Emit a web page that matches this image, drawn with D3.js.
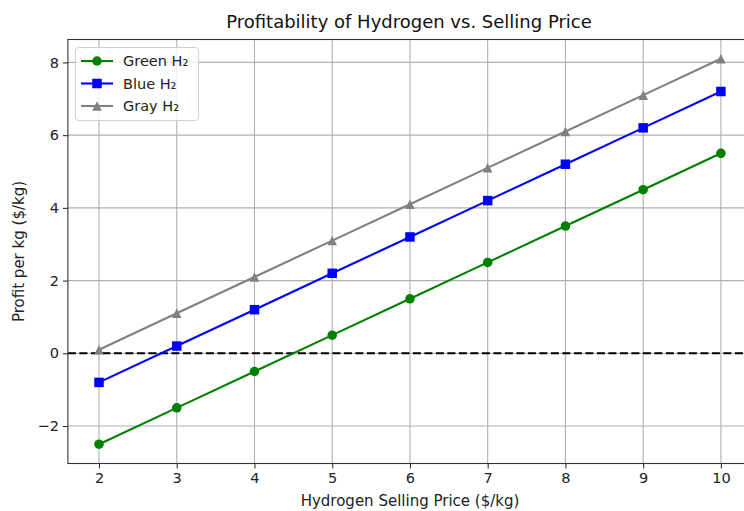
<!DOCTYPE html>
<html><head><meta charset="utf-8">
<script src="https://cdn.jsdelivr.net/npm/d3@7"></script>
<style>body{margin:0;background:#fff;overflow:hidden}svg{display:block;font-family:"DejaVu Sans",sans-serif}</style>
</head><body><svg id="c" width="744" height="511"></svg>
<script>
const prices = [2,3,4,5,6,7,8,9,10];
const green = [-2.5,-1.5,-0.5,0.5,1.5,2.5,3.5,4.5,5.5];
const blue = [-0.8,0.2,1.2,2.2,3.2,4.2,5.2,6.2,7.2];
const gray = [0.1,1.1,2.1,3.1,4.1,5.1,6.1,7.1,8.1];
const seriesNames = ["Green H\u2082","Blue H\u2082","Gray H\u2082"];
const seriesColors = ["green","blue","gray"];
const seriesMarkers = ["circle","square","triangle"];
const xTicks = [2,3,4,5,6,7,8,9,10];
const yTicks = [-2,0,2,4,6,8];

const svg = d3.select("#c");
const L=67.9, R=752, T=39.5, B=463.5;
const x = d3.scaleLinear().domain([1.6,10.4]).range([L,R]);
const y = d3.scaleLinear().domain([-3.03,8.63]).range([B,T]);

// grid
svg.append("g").selectAll("line").data(xTicks).join("line")
  .attr("x1",d=>x(d)).attr("x2",d=>x(d)).attr("y1",T).attr("y2",B)
  .attr("stroke","#b0b0b0").attr("stroke-width",1.1);
svg.append("g").selectAll("line").data(yTicks).join("line")
  .attr("x1",L).attr("x2",R).attr("y1",d=>y(d)).attr("y2",d=>y(d))
  .attr("stroke","#b0b0b0").attr("stroke-width",1.1);

// zero line
svg.append("line").attr("x1",L).attr("x2",R).attr("y1",y(0)).attr("y2",y(0))
  .attr("stroke","black").attr("stroke-width",2.1).attr("stroke-dasharray","8,3.5");

// axes
const xa = svg.append("g").attr("transform",`translate(0,${B})`)
  .call(d3.axisBottom(x).tickValues(xTicks).tickSize(5).tickPadding(4).tickFormat(d3.format("d")));
const ya = svg.append("g").attr("transform",`translate(${L},0)`)
  .call(d3.axisLeft(y).tickValues(yTicks).tickSize(5).tickPadding(4).tickFormat(d=>d<0?"\u2212"+Math.abs(d):d));
[xa,ya].forEach(a=>{a.select(".domain").remove();a.selectAll("text").attr("font-size",14.5).attr("fill","#222").style("font-family","DejaVu Sans");a.selectAll("line").attr("stroke","#333").attr("stroke-width",1.1);});

// frame
svg.append("rect").attr("x",L).attr("y",T).attr("width",R-L).attr("height",B-T)
  .attr("fill","none").attr("stroke","#333").attr("stroke-width",1.1);

const ms = 9.5;
function markerPath(m){
  if(m==="circle") return d3.symbol(d3.symbolCircle, Math.PI*(ms/2)*(ms/2))();
  if(m==="square") return `M${-ms/2},${-ms/2}h${ms}v${ms}h${-ms}Z`;
  return `M0,${-ms/2}L${ms/2},${ms/2}L${-ms/2},${ms/2}Z`;
}
const data = [green, blue, gray];
data.forEach((vals,i)=>{
  const pts = prices.map((p,j)=>[p,vals[j]]);
  svg.append("path").datum(pts).attr("fill","none").attr("stroke",seriesColors[i]).attr("stroke-width",2.1)
    .attr("d",d3.line().x(d=>x(d[0])).y(d=>y(d[1])));
  svg.append("g").selectAll("path").data(pts).join("path")
    .attr("transform",d=>`translate(${x(d[0])},${y(d[1])})`)
    .attr("d",markerPath(seriesMarkers[i]))
    .attr("fill",seriesColors[i]);
});

// legend
const lg = svg.append("g");
lg.append("rect").attr("x",75.5).attr("y",47.5).attr("width",123).attr("height",73).attr("rx",3)
  .attr("fill","white").attr("fill-opacity",0.8).attr("stroke","#d0d0d0");
seriesNames.forEach((n,i)=>{
  const yy = 61 + i*22.5;
  lg.append("line").attr("x1",81).attr("x2",113).attr("y1",yy).attr("y2",yy).attr("stroke",seriesColors[i]).attr("stroke-width",2.1);
  lg.append("path").attr("transform",`translate(97,${yy})`).attr("d",markerPath(seriesMarkers[i])).attr("fill",seriesColors[i]);
  lg.append("text").attr("x",123).attr("y",yy+5).attr("font-size",14.5).attr("fill","#222").text(n);
});

// titles
svg.append("text").attr("x",409).attr("y",28).attr("text-anchor","middle").attr("font-size",18).attr("fill","#111")
  .text("Profitability of Hydrogen vs. Selling Price");
svg.append("text").attr("x",410).attr("y",506).attr("text-anchor","middle").attr("font-size",15).attr("fill","#222")
  .text("Hydrogen Selling Price ($/kg)");
svg.append("text").attr("transform",`translate(24,${(T+B)/2}) rotate(-90)`).attr("text-anchor","middle").attr("font-size",15).attr("fill","#222")
  .text("Profit per kg ($/kg)");
</script></body></html>
